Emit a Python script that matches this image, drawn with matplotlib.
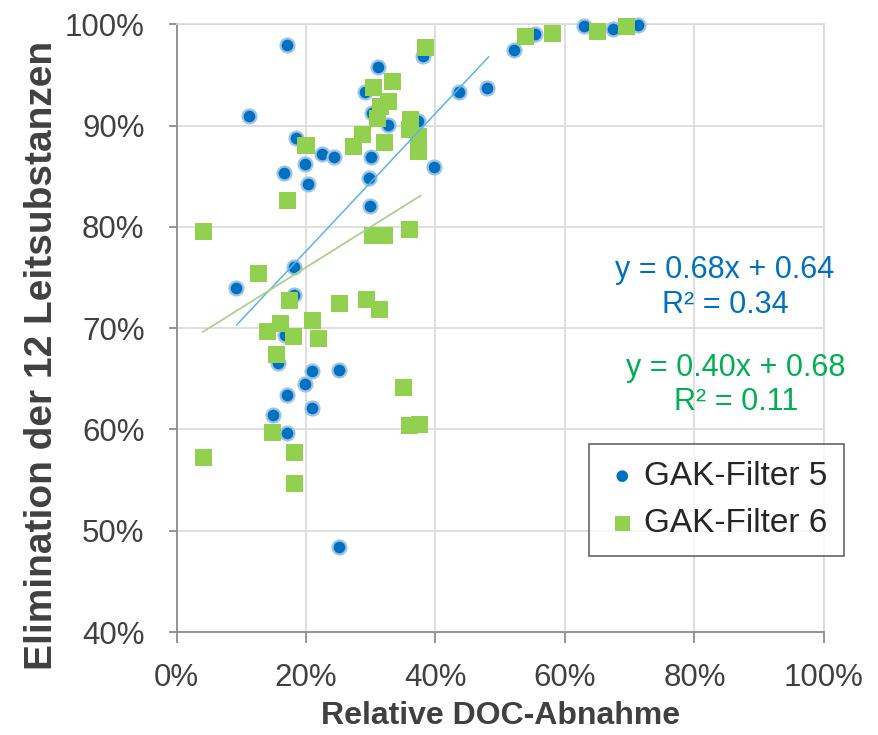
import matplotlib
matplotlib.use("Agg")
import matplotlib.pyplot as plt
import numpy as np
from matplotlib.ticker import PercentFormatter, MultipleLocator

plt.rcParams['font.family'] = ['Liberation Sans', 'DejaVu Sans']

# GAK-Filter 5 (relative DOC decrease, elimination)
f5_x = [17.0, 11.2, 31.1, 29.1, 30.2, 32.7, 38.1, 37.3, 43.7, 48.0,
        18.4, 22.4, 24.4, 30.1, 19.8, 16.6, 29.8, 20.3, 39.8, 29.9,
        18.2, 9.2, 18.1, 16.7, 15.7, 21.0, 25.1, 19.8, 17.0, 21.0,
        14.9, 17.0, 25.1, 52.1, 55.3, 63.0, 67.4, 71.3]
f5_y = [98.0, 90.9, 95.8, 93.3, 91.2, 90.1, 96.9, 90.4, 93.3, 93.7,
        88.8, 87.2, 86.9, 86.9, 86.2, 85.3, 84.8, 84.2, 85.9, 82.1,
        76.0, 74.0, 73.3, 69.3, 66.6, 65.8, 65.9, 64.5, 63.4, 62.1,
        61.4, 59.6, 48.4, 97.5, 99.0, 99.8, 99.5, 99.9]

# GAK-Filter 6
f6_x = [38.5, 33.3, 30.4, 32.7, 31.5, 31.1, 36.1, 36.0, 37.3, 37.3,
        28.8, 27.4, 32.1, 20.0, 17.1, 4.1, 30.3, 32.1, 36.0, 12.6,
        17.4, 25.1, 29.4, 31.3, 21.0, 16.1, 14.1, 18.1, 21.9, 15.5,
        35.0, 36.0, 37.6, 14.8, 4.1, 18.3, 18.3, 53.9, 58.0, 65.0, 69.5]
f6_y = [97.7, 94.3, 93.8, 92.4, 91.9, 90.7, 90.6, 89.6, 88.9, 87.4,
        89.1, 87.9, 88.3, 88.0, 82.6, 79.5, 79.1, 79.1, 79.7, 75.4,
        72.7, 72.4, 72.8, 71.8, 70.8, 70.5, 69.7, 69.2, 69.0, 67.4,
        64.1, 60.4, 60.5, 59.7, 57.2, 57.7, 54.7, 98.8, 99.1, 99.3, 99.8]

# linear trend lines as given in the chart (slope, intercept, x range)
trend5 = (0.68, 0.64, [0.093, 0.482])
trend6 = (0.40, 0.68, [0.041, 0.377])

x5 = np.array(f5_x) / 100
y5 = np.array(f5_y) / 100
x6 = np.array(f6_x) / 100
y6 = np.array(f6_y) / 100

fig = plt.figure(figsize=(8.79, 7.35), dpi=100)
ax = fig.add_axes([0.2008, 0.1401, 0.7366, 0.8269])

grid_c = '#d9d9d9'
axis_c = '#8c8c8c'
text_c = '#404040'

ax.scatter(x5, y5, s=100, marker='o', color='#0070c0', edgecolors='#9dc3e6',
           linewidths=1.6, zorder=3, label='GAK-Filter 5', clip_on=False)
ax.scatter(x6, y6, s=150, marker='s', color='#92d050', edgecolors='none',
           zorder=4, label='GAK-Filter 6', clip_on=False)

xs = np.array(trend5[2])
ax.plot(xs, trend5[0] * xs + trend5[1], color='#5bb5e5', lw=1.1, zorder=5)
xs = np.array(trend6[2])
ax.plot(xs, trend6[0] * xs + trend6[1], color='#a9d18e', lw=1.3, zorder=5)

ax.set_xlim(0, 1)
ax.set_ylim(0.4, 1.0)
ax.xaxis.set_major_locator(MultipleLocator(0.2))
ax.yaxis.set_major_locator(MultipleLocator(0.1))
ax.xaxis.set_major_formatter(PercentFormatter(1.0, decimals=0))
ax.yaxis.set_major_formatter(PercentFormatter(1.0, decimals=0))
ax.grid(True, color=grid_c, lw=1.2, zorder=0)
ax.set_axisbelow(True)

for side in ['top', 'right']:
    ax.spines[side].set_color(grid_c)
    ax.spines[side].set_linewidth(1.2)
for side in ['left', 'bottom']:
    ax.spines[side].set_color(axis_c)
    ax.spines[side].set_linewidth(1.3)

ax.tick_params(axis='x', direction='out', length=8, width=1.3, color=axis_c,
               labelsize=22.5, labelcolor=text_c, pad=14)
ax.tick_params(axis='y', direction='out', length=6, width=1.3, color=axis_c,
               labelsize=22.5, labelcolor=text_c, pad=17)

fig.text(0.569, 0.026, 'Relative DOC-Abnahme', ha='center', va='center',
         fontsize=23, fontweight='bold', color=text_c)
fig.text(0.048, 0.517, 'Elimination der 12 Leitsubstanzen', ha='center',
         va='center', rotation=90, fontsize=28, fontweight='bold', color=text_c)

ax.text(0.847, 0.740, 'y = 0.68x + 0.64\nR² = 0.34', ha='center', va='center',
        multialignment='center', fontsize=22, color='#0070c0', linespacing=1.2)
ax.text(0.864, 0.644, 'y = 0.40x + 0.68\nR² = 0.11', ha='center', va='center',
        multialignment='center', fontsize=22, color='#00b050', linespacing=1.15)

leg = ax.legend(loc='upper left', bbox_to_anchor=(0.637, 0.309), fontsize=24,
                frameon=True, fancybox=False, edgecolor='#404040',
                handlelength=1.0, handletextpad=0.15, borderaxespad=0,
                labelspacing=0.48, borderpad=0.5, scatterpoints=1)
leg.get_frame().set_linewidth(1.2)
for t in leg.get_texts():
    t.set_color('#262626')
leg.legend_handles[0].set_sizes([70])
leg.legend_handles[0].set_edgecolor('none')
leg.legend_handles[1].set_sizes([120])

fig.savefig('out.png', dpi=100)
